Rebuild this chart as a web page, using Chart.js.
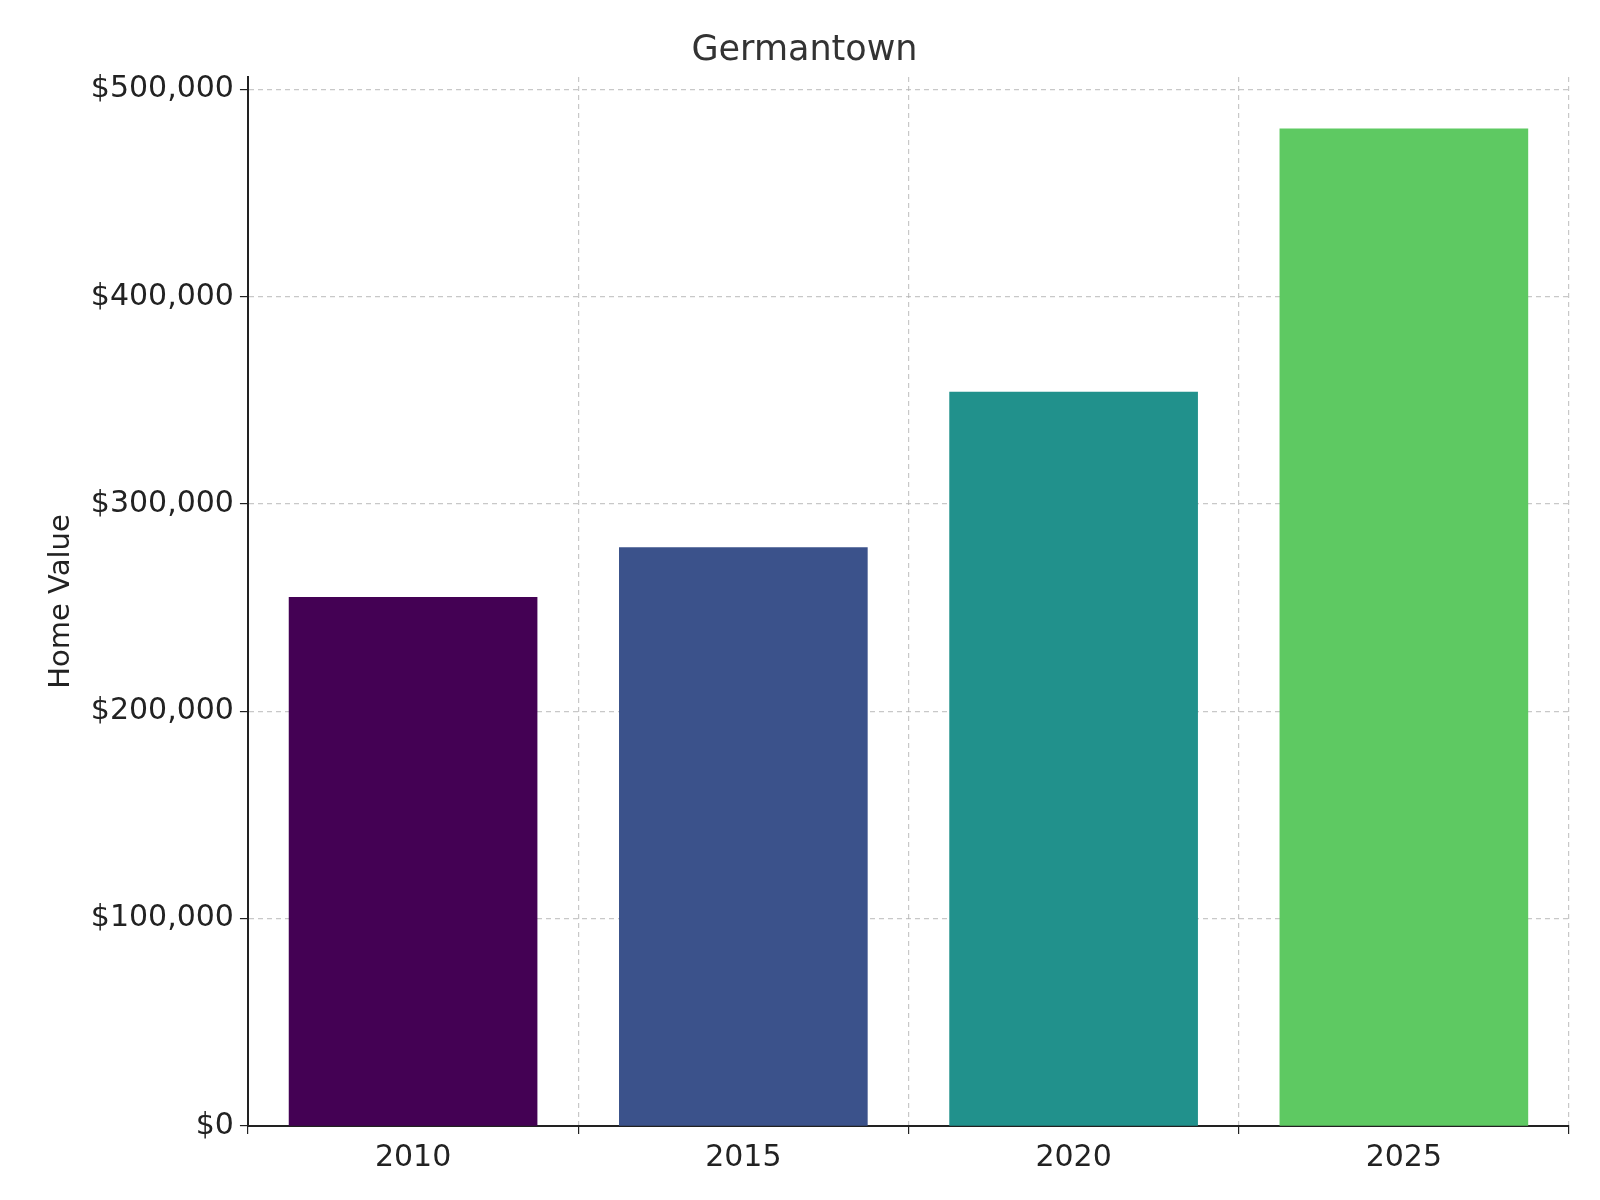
<!DOCTYPE html>
<html><head><meta charset="utf-8">
<script src="https://cdn.jsdelivr.net/npm/chart.js@4"></script>
<style>html,body{margin:0;padding:0;background:#fff}#w{width:1600px;height:1200px}</style>
</head><body><div id="w"><canvas id="c"></canvas></div>
<script>
const years = ['2010', '2015', '2020', '2025'];
const homeValues = [255000, 279000, 354000, 481000];
const barColors = ['#440154', '#3b528b', '#21918c', '#5ec962'];
const yTicks = [0, 100000, 200000, 300000, 400000, 500000];
const font = "'DejaVu Sans', sans-serif";
const grid = {color: 'rgba(176,176,176,0.7)', lineWidth: 1.2, tickLength: 8, tickColor: '#222'};
new Chart(document.getElementById('c'), {
  type: 'bar',
  data: { labels: years, datasets: [{ data: homeValues, backgroundColor: barColors, barThickness: 248 }] },
  options: {
    responsive: true, maintainAspectRatio: false, animation: false,
    layout: { padding: { top: 10, right: 31, bottom: 18, left: 40 } },
    plugins: { legend: {display:false}, tooltip:{enabled:false},
      title: { display: true, text: 'Germantown', color: '#333', font: {family: font, size: 35, weight: 'normal'}, padding: {top: 20, bottom: 5} } },
    scales: {
      x: { z: 1,
        ticks: { color: '#222', font: {family: font, size: 30}, padding: 6 },
        grid: Object.assign({}, grid),
        border: { color: '#222', width: 2, dash: [5,4] } },
      y: { min: 0, max: 506000, z: 1,
        afterBuildTicks: s => { s.ticks = yTicks.map(v=>({value:v})); },
        ticks: { color: '#222', font: {family: font, size: 30}, padding: 6, callback: v => '$' + v.toLocaleString('en-US') },
        grid: Object.assign({}, grid),
        border: { color: '#222', width: 2, dash: [5,4] },
        title: { display: true, text: 'Home Value', color: '#222', font: {family: font, size: 29}, padding: {bottom: 6} } }
    }
  }
});
</script></body></html>
